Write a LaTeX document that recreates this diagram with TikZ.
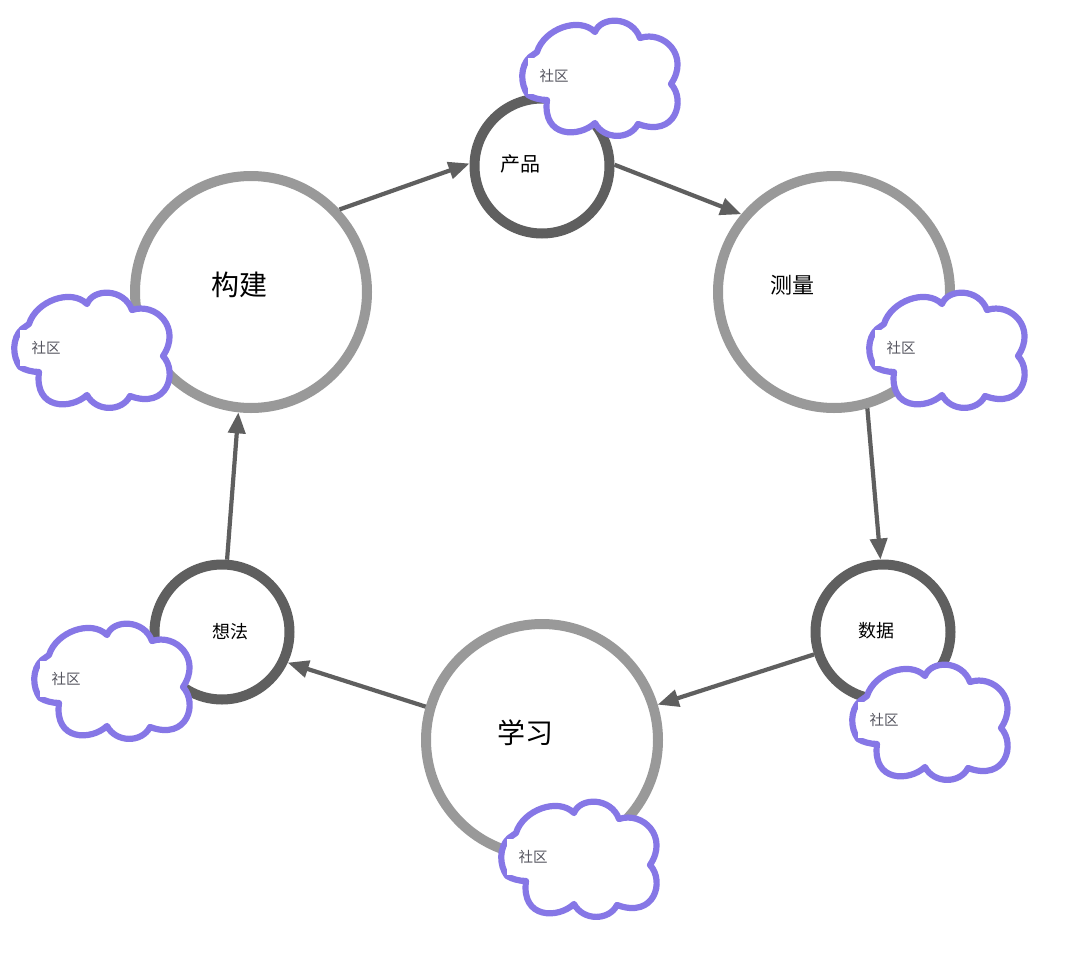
\documentclass[tikz,border=0pt]{standalone}
\usepackage{fontspec}
\setmainfont{Noto Sans CJK SC}
\usetikzlibrary{arrows.meta}
\definecolor{ringlight}{HTML}{999999}
\definecolor{ringdark}{HTML}{5F5F5F}
\definecolor{arrowgray}{HTML}{5F5F5F}
\definecolor{cloudline}{HTML}{8677E6}
\definecolor{cloudtext}{HTML}{55555F}
\tikzset{
  bigring/.style={circle,draw=ringlight,line width=10pt,minimum size=232pt,inner sep=0pt,fill=white},
  smallring/.style={circle,draw=ringdark,line width=10pt,minimum size=135pt,inner sep=0pt,fill=white},
  linkarrow/.style={draw=arrowgray,line width=4.2pt,-{Triangle[length=21pt,width=17pt]}},
  bigtext/.style={font=\fontsize{28}{30}\selectfont,text=black,inner sep=0pt},
  midtext/.style={font=\fontsize{22}{24}\selectfont,text=black,inner sep=0pt},
  smalltext/.style={font=\fontsize{18}{20}\selectfont,text=black,inner sep=0pt},
  producttextstyle/.style={font=\fontsize{20}{22}\selectfont,text=black,inner sep=0pt},
  tinytext/.style={font=\fontsize{14.5}{16}\selectfont,text=cloudtext,inner sep=0pt},
  pics/cloud/.style={code={
    \path[draw=cloudline,line width=6.2pt,fill=white,line join=round]
      (-17,-24) .. controls (-10,-47) and (25,-60) .. (41,-44)
      .. controls (47,-60) and (78,-60) .. (86,-38)
      .. controls (110,-46) and (136,-20) .. (117,8)
      .. controls (132,24) and (122,62) .. (84,48)
      .. controls (76,64) and (50,64) .. (41,47)
      .. controls (25,62) and (-12,62) .. (-7,24)
      .. controls (-14,24) and (-21,22) .. (-26,19)
      .. controls (-34,8) and (-34,-10) .. (-24,-19)
      -- cycle;
    \fill[white] (-26,-18) rectangle (12,18);
    \node[tinytext] (-label) at (0,0) {社区};
  }}
}
\begin{document}
\begin{tikzpicture}[x=1pt,y=-1pt]
\useasboundingbox[fill=white] (0,0) rectangle (1080,961);
\node[bigring] (build) at (251,292) {};
\node[smallring] (product) at (542,166) {};
\node[bigring] (measure) at (834,292) {};
\node[smallring] (data) at (883,632) {};
\node[bigring] (learn) at (542,740) {};
\node[smallring] (idea) at (222,632) {};
\node[bigtext] (buildtext) at (239,285) {构建};
\node[producttextstyle] (producttext) at (520,164) {产品};
\node[midtext] (measuretext) at (792,285) {测量};
\node[smalltext] (datatext) at (876,631) {数据};
\node[bigtext] (learntext) at (525,733) {学习};
\node[smalltext] (ideatext) at (230,632) {想法};
\draw[linkarrow] (build.43) -- (product.178);
\draw[linkarrow] (product.1) -- (measure.140);
\draw[linkarrow] (measure.-74) -- (data.92);
\draw[linkarrow] (data.198) -- (learn.17);
\draw[linkarrow] (learn.164) -- (idea.-25);
\draw[linkarrow] (idea.86) -- (build.-96);
\pic (cloudone) at (554,76) {cloud};
\pic (cloudtwo) at (46,348) {cloud};
\pic (cloudthree) at (901,348) {cloud};
\pic (cloudfour) at (884,720) {cloud};
\pic (cloudfive) at (533,857) {cloud};
\pic (cloudsix) at (66,679) {cloud};
\end{tikzpicture}
\end{document}
